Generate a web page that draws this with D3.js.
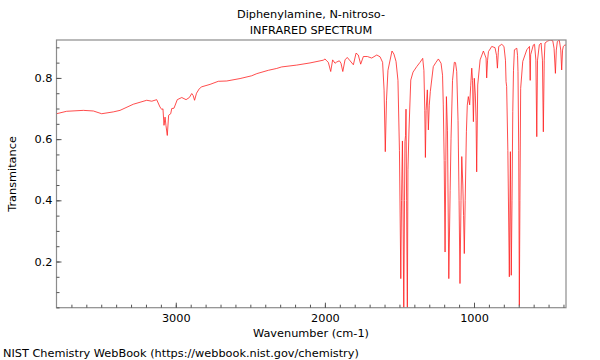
<!DOCTYPE html>
<html>
<head>
<meta charset="utf-8">
<script src="https://cdn.jsdelivr.net/npm/d3@7"></script>
<style>
  html, body { margin: 0; padding: 0; background: #fff; }
  svg { display: block; }
  text { font-family: "DejaVu Sans", sans-serif; fill: #000; }
</style>
</head>
<body>
<svg id="chart" width="600" height="360"></svg>
<script>
// ---- data ----
const title1 = "Diphenylamine, N-nitroso-";
const title2 = "INFRARED SPECTRUM";
const xLabel = "Wavenumber (cm-1)";
const yLabel = "Transmitance";
const footer = "NIST Chemistry WebBook (https://webbook.nist.gov/chemistry)";

const xDomain = [3800, 383];
const yDomain = [0.049, 0.924];
const xTickValues = [3000, 2000, 1000];
const yTickValues = [0.2, 0.4, 0.6, 0.8];

// wavenumber (cm-1)
const wavenumber = [
  3800, 3732, 3620, 3553, 3497, 3419, 3374, 3285, 3195, 3161, 3128, 3106, 3094, 3086,
  3079, 3072, 3066, 3057, 3048, 3034, 3027, 3012, 2990, 2960, 2931, 2909, 2893, 2884,
  2874, 2861, 2842, 2826, 2770, 2715, 2658, 2569, 2491, 2457, 2379, 2323, 2290, 2189,
  2100, 2011, 1999, 1988, 1977, 1961, 1948, 1932, 1921, 1903, 1892, 1880, 1865, 1850,
  1831, 1809, 1791, 1776, 1760, 1742, 1715, 1686, 1652, 1630, 1613, 1603, 1595, 1587,
  1577, 1550, 1537, 1523, 1510, 1500, 1491, 1486, 1480, 1476, 1471, 1466, 1463, 1459,
  1456, 1452, 1447, 1443, 1436, 1424, 1409, 1384, 1362, 1344, 1336, 1330, 1326, 1321,
  1313, 1306, 1300, 1293, 1273, 1255, 1239, 1221, 1211, 1206, 1200, 1194, 1189, 1185,
  1178, 1169, 1160, 1154, 1144, 1132, 1124, 1116, 1107, 1100, 1094, 1087, 1082, 1075,
  1070, 1065, 1059, 1051, 1045, 1038, 1029, 1022, 1015, 1010, 1004, 998, 991, 986,
  982, 975, 959, 937, 919, 915, 909, 903, 881, 859, 849, 843, 837, 834,
  814, 799, 789, 785, 781, 773, 763, 756, 750, 745, 740, 735, 729, 713,
  708, 705, 700, 696, 692, 687, 673, 646, 628, 626, 623, 620, 602, 594,
  585, 579, 574, 562, 550, 541, 535, 529, 524, 508, 490, 472, 463, 454,
  448, 441, 428, 418, 412, 406, 401, 390, 383
];
// transmittance
const transmittance = [
  0.683, 0.691, 0.694, 0.692, 0.683, 0.689, 0.694, 0.714, 0.727, 0.724, 0.729, 0.705, 0.697, 0.699,
  0.645, 0.672, 0.645, 0.612, 0.678, 0.683, 0.700, 0.701, 0.729, 0.736, 0.729, 0.736, 0.749, 0.743,
  0.727, 0.750, 0.765, 0.771, 0.779, 0.789, 0.790, 0.798, 0.807, 0.814, 0.825, 0.831, 0.836, 0.842,
  0.849, 0.858, 0.862, 0.856, 0.851, 0.821, 0.859, 0.848, 0.852, 0.856, 0.848, 0.821, 0.859, 0.867,
  0.856, 0.843, 0.881, 0.875, 0.845, 0.870, 0.870, 0.865, 0.875, 0.869, 0.851, 0.760, 0.559, 0.727,
  0.825, 0.888, 0.878, 0.854, 0.792, 0.563, 0.144, 0.400, 0.594, 0.400, 0.020, 0.400, 0.592, 0.612,
  0.698, 0.400, 0.020, 0.500, 0.630, 0.793, 0.819, 0.837, 0.851, 0.864, 0.825, 0.694, 0.540, 0.694,
  0.761, 0.630, 0.711, 0.755, 0.837, 0.851, 0.862, 0.848, 0.809, 0.712, 0.530, 0.231, 0.530, 0.739,
  0.629, 0.144, 0.432, 0.603, 0.792, 0.851, 0.850, 0.821, 0.661, 0.400, 0.128, 0.400, 0.543, 0.450,
  0.350, 0.226, 0.400, 0.624, 0.711, 0.739, 0.712, 0.776, 0.832, 0.792, 0.657, 0.799, 0.744, 0.661,
  0.493, 0.777, 0.859, 0.888, 0.865, 0.800, 0.858, 0.886, 0.903, 0.899, 0.874, 0.832, 0.884, 0.903,
  0.910, 0.903, 0.858, 0.788, 0.772, 0.563, 0.150, 0.559, 0.155, 0.400, 0.690, 0.825, 0.892, 0.897,
  0.874, 0.821, 0.563, 0.057, 0.400, 0.766, 0.854, 0.892, 0.903, 0.858, 0.792, 0.876, 0.908, 0.910,
  0.858, 0.608, 0.858, 0.908, 0.914, 0.858, 0.624, 0.858, 0.914, 0.920, 0.924, 0.922, 0.897, 0.815,
  0.891, 0.919, 0.924, 0.891, 0.826, 0.891, 0.903, 0.908, 0.907
];

// ---- layout ----
const svg = d3.select("#chart");
const margin = { left: 56.5, right: 34, top: 40, bottom: 52.3 };
const W = 600, H = 360;
const FS = 11.3;
const x = d3.scaleLinear().domain(xDomain).range([margin.left, W - margin.right]);
const y = d3.scaleLinear().domain(yDomain).range([H - margin.bottom, margin.top]);

const data = wavenumber.map((w, i) => ({ w, t: transmittance[i] }));

svg.append("clipPath").attr("id", "clip")
  .append("rect")
  .attr("x", margin.left).attr("y", margin.top)
  .attr("width", W - margin.left - margin.right)
  .attr("height", H - margin.top - margin.bottom);

// spectrum line
svg.append("path")
  .datum(data)
  .attr("clip-path", "url(#clip)")
  .attr("fill", "none")
  .attr("stroke", "#ff2020")
  .attr("stroke-width", 1)
  .attr("stroke-opacity", 0.8)
  .attr("stroke-linejoin", "round")
  .attr("d", d3.line().x(d => x(d.w)).y(d => y(d.t)));

// frame
const frameColor = "#8c8c8c";
svg.append("rect")
  .attr("x", margin.left).attr("y", margin.top)
  .attr("width", W - margin.left - margin.right)
  .attr("height", H - margin.top - margin.bottom)
  .attr("fill", "none").attr("stroke", frameColor).attr("stroke-width", 1.2);

// axes (ticks inward)
const xMinor = d3.range(3700, 383, -100);
const yMinor = d3.range(0.05, 0.924, 0.05).map(v => +v.toFixed(2));

const xAxis = svg.append("g").attr("transform", `translate(0,${H - margin.bottom})`);
xAxis.call(d3.axisBottom(x).tickValues(xMinor).tickSize(-3).tickFormat(""));
xAxis.call(g => g.select(".domain").remove());
const xMajor = svg.append("g").attr("transform", `translate(0,${H - margin.bottom})`)
  .call(d3.axisBottom(x).tickValues(xTickValues).tickSize(-5).tickPadding(6).tickFormat(d3.format("d")));
xMajor.select(".domain").remove();
xMajor.selectAll("text").attr("font-size", FS).attr("dy", "0.71em");

const yAxis = svg.append("g").attr("transform", `translate(${margin.left},0)`);
yAxis.call(d3.axisLeft(y).tickValues(yMinor).tickSize(-3).tickFormat(""));
yAxis.call(g => g.select(".domain").remove());
const yMajor = svg.append("g").attr("transform", `translate(${margin.left},0)`)
  .call(d3.axisLeft(y).tickValues(yTickValues).tickSize(-5).tickPadding(4).tickFormat(d3.format(".1f")));
yMajor.select(".domain").remove();
yMajor.selectAll("text").attr("font-size", FS).attr("x", -4);

svg.selectAll(".tick line").attr("stroke", "#555");

// texts
svg.append("text").attr("x", 311).attr("y", 18).attr("text-anchor", "middle")
  .attr("font-size", FS).text(title1);
svg.append("text").attr("x", 311).attr("y", 34).attr("text-anchor", "middle")
  .attr("font-size", FS).text(title2);
svg.append("text").attr("x", 311).attr("y", 336.5).attr("text-anchor", "middle")
  .attr("font-size", FS).text(xLabel);
svg.append("text").attr("transform", "translate(15.5,174) rotate(-90)")
  .attr("text-anchor", "middle").attr("font-size", FS).text(yLabel);
svg.append("text").attr("x", 3).attr("y", 357).attr("font-size", FS).text(footer);
</script>
</body>
</html>
